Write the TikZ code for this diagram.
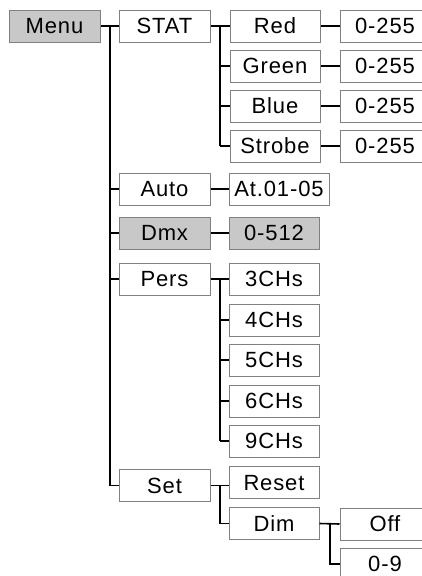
\documentclass[tikz,border=0pt]{standalone}
\usepackage{fontspec}
\setmainfont{Liberation Sans}[LetterSpace=4]

\begin{document}
\begin{tikzpicture}[x=1pt, y=-1pt,
    box/.style={draw=boxLine, line width=1pt, fill=white, minimum width=91pt,
        minimum height=32pt, inner sep=0pt, text height=15.8pt, text depth=0pt,
        font=\fontsize{22}{26}\selectfont},
    sel/.style={box, fill=boxFill},
    link/.style={line width=1.6pt, black}]
    % --- COLOURS ---
    \definecolor{boxLine}{RGB}{128, 128, 128}   % gray border
    \definecolor{boxFill}{RGB}{200, 200, 200}   % active item

    \useasboundingbox (0,0) rectangle (422,576);

    % --- LEVEL 1 ---
    \node[sel] (menu) at (54.5,26) {Menu};
    \node[box] (stat) at (164.5,26) {STAT};
    \node[box] (auto) at (164.5,189) {Auto};
    \node[sel] (dmx) at (164.5,233) {Dmx};
    \node[box] (pers) at (164.5,279) {Pers};
    \node[box] (set) at (164.5,485.5) {Set};

    % trunk from Menu
    \coordinate (t1) at (110,26);
    \draw[link] (menu.east) -- (stat.west);
    \draw[link] (t1) |- (set.west);
    \foreach \nm in {auto,dmx,pers}
        \draw[link] (t1 |- \nm.west) -- (\nm.west);

    % --- STAT colours ---
    \coordinate (t2) at (220,26);
    \foreach \lbl/\nm/\yy in {Red/red/26, Green/green/66, Blue/blue/106, Strobe/strobe/146} {
        \node[box, minimum width=90pt] (\nm) at (275,\yy) {\lbl};
        \node[box, minimum width=90pt] (\nm v) at (385,\yy) {0-255};
        \draw[link] (\nm.east) -- (\nm v.west);
        \draw[link] (t2 |- \nm.west) -- (\nm.west);
    }
    \draw[link] (stat.east) -- (red.west);
    \draw[link] (t2) -- (t2 |- strobe.west);

    % --- Auto / Dmx ---
    \node[box, minimum width=100pt] (autov) at (279,189) {At.01-05};
    \draw[link] (auto.east) -- (autov.west);
    \node[sel, minimum width=90pt] (dmxv) at (274,233) {0-512};
    \draw[link] (dmx.east) -- (dmxv.west);

    % --- Pers channels ---
    \coordinate (t3) at (220,279);
    \foreach \ch/\yy in {3/279, 4/320, 5/360, 6/401, 9/441} {
        \node[box, minimum width=90pt] (ch\ch) at (274,\yy) {\ch CHs};
        \draw[link] (t3 |- ch\ch.west) -- (ch\ch.west);
    }
    \draw[link] (pers.east) -- (ch3.west);
    \draw[link] (t3) -- (t3 |- ch9.west);

    % --- Set ---
    \node[box, minimum width=90pt] (reset) at (274,482.5) {Reset};
    \node[box, minimum width=90pt] (dim) at (274,523.5) {Dim};
    \coordinate (t4) at (220,485.5);
    \draw[link] (set.east) -- (set.east -| reset.west);
    \draw[link] (t4) |- (dim.west);

    % --- Dim ---
    \node[box, minimum width=90pt] (off) at (385,524) {Off};
    \node[box, minimum width=90pt] (dimv) at (385,564) {0-9};
    \coordinate (t5) at (330,523.5);
    \draw[link] (dim.east) -- (off.west);
    \draw[link] (t5) |- (dimv.west);
\end{tikzpicture}
\end{document}
